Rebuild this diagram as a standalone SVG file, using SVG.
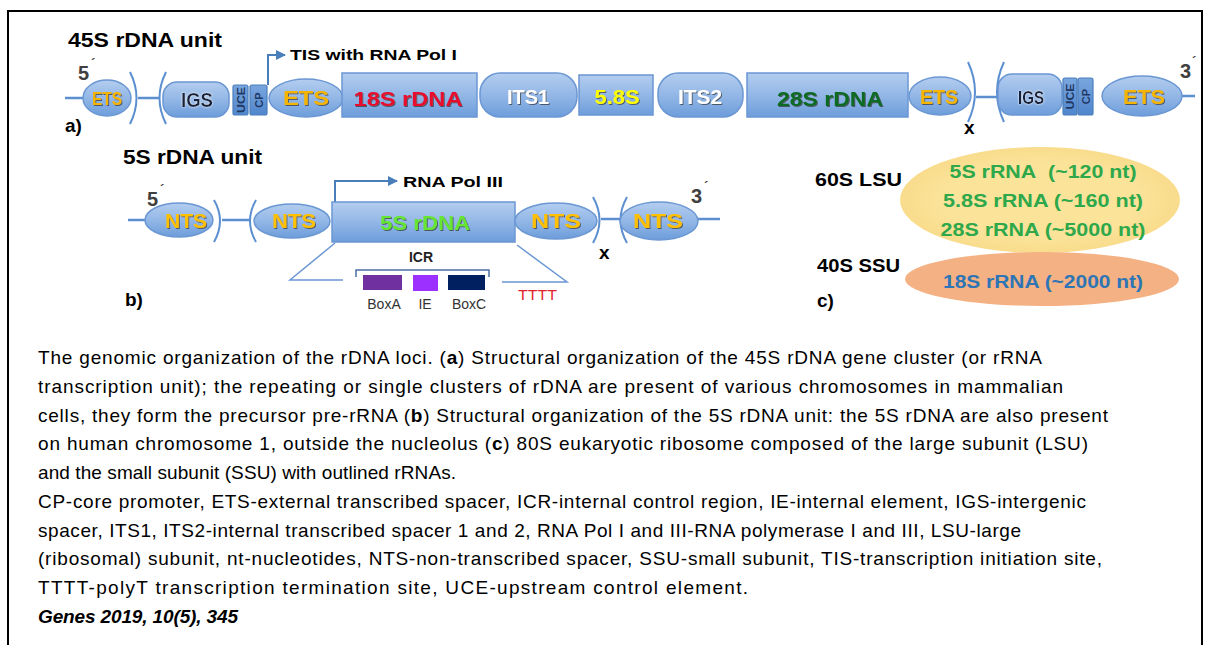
<svg xmlns="http://www.w3.org/2000/svg" width="1205" height="645" viewBox="0 0 1205 645">
<defs>
<linearGradient id="gb" x1="0" y1="0" x2="0" y2="1">
<stop offset="0" stop-color="#b3cdef"/>
<stop offset="0.5" stop-color="#93b7e6"/>
<stop offset="1" stop-color="#6d9ddb"/>
</linearGradient>
<linearGradient id="gd" x1="0" y1="0" x2="0" y2="1">
<stop offset="0" stop-color="#7aa6de"/>
<stop offset="1" stop-color="#4f86cc"/>
</linearGradient>
<radialGradient id="gy" cx="0.5" cy="0.5" r="0.5">
<stop offset="0.7" stop-color="#fbe39a"/>
<stop offset="1" stop-color="#f9dc8c"/>
</radialGradient>
<filter id="sh" x="-20%" y="-20%" width="140%" height="140%">
<feDropShadow dx="1" dy="1" stdDeviation="0.6" flood-color="#333" flood-opacity="0.7"/>
</filter>
<filter id="wg" x="-20%" y="-20%" width="140%" height="140%">
<feDropShadow dx="0" dy="0" stdDeviation="1" flood-color="#fff" flood-opacity="1"/>
</filter>
<marker id="ar" viewBox="0 0 10 10" refX="9" refY="5" markerWidth="5" markerHeight="5" orient="auto">
<path d="M0,0 L10,5 L0,10 z" fill="#4a7ebb"/>
</marker>
<style>
.sh{fill:url(#gb);stroke:#6b97d3;stroke-width:1.5}
.dk{fill:url(#gd);stroke:#4a7ebb;stroke-width:1.2}
.ln{stroke:#5b8fd0;stroke-width:2.5;fill:none}
.br{stroke:#5b8fd0;stroke-width:2;fill:none}
.arr{stroke:#4a7ebb;stroke-width:2;fill:none}
.lbl{font-family:"Liberation Sans",Arial,sans-serif;font-weight:bold;text-anchor:middle}
.b{font-family:"Liberation Sans",Arial,sans-serif;font-weight:bold;fill:#000}
.cap{font-family:"Liberation Sans",Arial,sans-serif;font-size:19px;fill:#000}
.vt{font-family:"Liberation Sans",Arial,sans-serif;font-weight:bold;font-size:11px;fill:#1f3864;text-anchor:middle}
.prime{font-family:"Liberation Sans",Arial,sans-serif;font-weight:bold;fill:#404040}
.grn{font-family:"Liberation Sans",Arial,sans-serif;font-weight:bold;font-size:18px;fill:#2ea84a;text-anchor:middle}
.sm{font-family:"Liberation Sans",Arial,sans-serif;font-size:14px;fill:#333;text-anchor:middle}
</style>
</defs>
<rect x="0" y="0" width="1205" height="645" fill="#fff"/>
<path d="M8,660 V11 H1202 V660" fill="none" stroke="#000" stroke-width="2"/>

<g id="connectors">
<line class="ln" x1="65" y1="98" x2="84" y2="98"/>
<line class="ln" x1="138" y1="98" x2="160" y2="98"/>
<line class="ln" x1="976" y1="97" x2="997" y2="97"/>
<line class="ln" x1="1182" y1="96" x2="1195" y2="96"/>
<path class="br" d="M130,72 Q143,98 130,124"/>
<path class="br" d="M166,72 Q153,98 166,124"/>
<path class="br" d="M968,62 Q982,92 968,122"/>
<path class="br" d="M1004,62 Q990,92 1004,122"/>
<path class="arr" d="M268,85 V55 H285" marker-end="url(#ar)"/>
<line class="ln" x1="128" y1="220" x2="146" y2="220"/>
<line class="ln" x1="222" y1="220" x2="250" y2="220"/>
<line class="ln" x1="601" y1="219" x2="620" y2="219"/>
<line class="ln" x1="697" y1="219" x2="720" y2="219"/>
<path class="br" d="M214,200 Q226,221 214,242"/>
<path class="br" d="M256,200 Q244,221 256,242"/>
<path class="br" d="M593,197 Q606,220 593,243"/>
<path class="br" d="M627,197 Q614,220 627,243"/>
<path class="arr" d="M335,202 V181 H397" marker-end="url(#ar)"/>
<path d="M335,243 L290,280 H343" stroke="#6b97d3" stroke-width="1.5" fill="none"/>
<path d="M517,245 L567,282 H502" stroke="#6b97d3" stroke-width="1.5" fill="none"/>
</g>

<g id="titles">
<text class="b" x="68" y="47" font-size="21" textLength="154" lengthAdjust="spacingAndGlyphs">45S rDNA unit</text>
<text class="b" x="290" y="60" font-size="15" textLength="167" lengthAdjust="spacingAndGlyphs">TIS with RNA Pol I</text>
<text class="b" x="65" y="132" font-size="19">a)</text>
<text class="prime" x="78" y="80" font-size="20">5</text><text class="prime" x="91" y="68" font-size="13">´</text>
<text class="prime" x="1180" y="78" font-size="20">3</text><text class="prime" x="1192" y="66" font-size="13">´</text>
<text class="b" x="964" y="134" font-size="19">x</text>
<text class="b" x="123" y="164" font-size="21" textLength="139" lengthAdjust="spacingAndGlyphs">5S rDNA unit</text>
<text class="b" x="403" y="187" font-size="15" textLength="100" lengthAdjust="spacingAndGlyphs">RNA Pol III</text>
<text class="prime" x="147" y="206" font-size="20">5</text><text class="prime" x="160" y="194" font-size="13">´</text>
<text class="prime" x="691" y="203" font-size="20">3</text><text class="prime" x="704" y="191" font-size="13">´</text>
<text class="b" x="599" y="259" font-size="19">x</text>
<text class="b" x="125" y="306" font-size="19">b)</text>
<text class="b" x="817" y="307" font-size="19">c)</text>
</g>

<g id="ETS1"><ellipse class="sh" cx="107" cy="98" rx="24" ry="18"/><text class="lbl" x="107" y="105" font-size="18" fill="#f5b400" filter="url(#sh)" textLength="30" lengthAdjust="spacingAndGlyphs">ETS</text></g>
<g id="IGS1"><rect class="sh" x="163" y="82" width="66" height="35" rx="14"/><text class="lbl" x="197" y="107" font-size="21" fill="#16233d" filter="url(#wg)" textLength="32" lengthAdjust="spacingAndGlyphs">IGS</text></g>
<g id="UCE1"><rect class="dk" x="233" y="85" width="15" height="30" rx="2"/><text class="vt" transform="translate(244.5,100) rotate(-90)" textLength="26" lengthAdjust="spacingAndGlyphs">UCE</text></g>
<g id="CP1"><rect class="dk" x="250" y="85" width="17" height="30" rx="2"/><text class="vt" transform="translate(262.5,100) rotate(-90)">CP</text></g>
<g id="ETS2"><ellipse class="sh" cx="306" cy="98" rx="37" ry="19"/><text class="lbl" x="306" y="105" font-size="20" fill="#f5b400" filter="url(#sh)" textLength="46" lengthAdjust="spacingAndGlyphs">ETS</text></g>
<g id="r18S"><rect class="sh" x="342" y="73" width="135" height="44"/><text class="lbl" x="408" y="106" font-size="21" fill="#e8112d" filter="url(#sh)" textLength="109" lengthAdjust="spacingAndGlyphs">18S rDNA</text></g>
<g id="ITS1"><rect class="sh" x="480" y="73" width="97" height="44" rx="20"/><text class="lbl" x="528" y="104" font-size="21" fill="#fff" filter="url(#sh)" textLength="42" lengthAdjust="spacingAndGlyphs">ITS1</text></g>
<g id="r58S"><rect class="sh" x="579" y="75" width="74" height="40"/><text class="lbl" x="617" y="104" font-size="21" fill="#ffff00" filter="url(#sh)" textLength="45" lengthAdjust="spacingAndGlyphs">5.8S</text></g>
<g id="ITS2"><rect class="sh" x="658" y="73" width="85" height="44" rx="20"/><text class="lbl" x="700" y="104" font-size="21" fill="#fff" filter="url(#sh)" textLength="44" lengthAdjust="spacingAndGlyphs">ITS2</text></g>
<g id="r28S"><rect class="sh" x="747" y="73" width="161" height="44"/><text class="lbl" x="830" y="106" font-size="21" fill="#0b6b23" filter="url(#sh)" textLength="106" lengthAdjust="spacingAndGlyphs">28S rDNA</text></g>
<g id="ETS3"><ellipse class="sh" cx="940" cy="96" rx="31" ry="19"/><text class="lbl" x="939" y="104" font-size="20" fill="#f5b400" filter="url(#sh)" textLength="38" lengthAdjust="spacingAndGlyphs">ETS</text></g>
<g id="IGS2"><rect class="sh" x="998" y="74" width="64" height="41" rx="14"/><text class="lbl" x="1031" y="104" font-size="19" fill="#16233d" filter="url(#wg)" textLength="26" lengthAdjust="spacingAndGlyphs">IGS</text></g>
<g id="UCE2"><rect class="dk" x="1063" y="78" width="14" height="37" rx="2"/><text class="vt" transform="translate(1074,96.5) rotate(-90)" textLength="26" lengthAdjust="spacingAndGlyphs">UCE</text></g>
<g id="CP2"><rect class="dk" x="1078" y="78" width="15" height="37" rx="2"/><text class="vt" transform="translate(1089.5,96.5) rotate(-90)">CP</text></g>
<g id="ETS4"><ellipse class="sh" cx="1142" cy="96" rx="40" ry="20"/><text class="lbl" x="1144" y="104" font-size="20" fill="#f5b400" filter="url(#sh)" textLength="42" lengthAdjust="spacingAndGlyphs">ETS</text></g>

<g id="NTS1"><ellipse class="sh" cx="179" cy="220" rx="34" ry="17"/><text class="lbl" x="186" y="228" font-size="20" fill="#ffc000" filter="url(#sh)" textLength="42" lengthAdjust="spacingAndGlyphs">NTS</text></g>
<g id="NTS2"><ellipse class="sh" cx="292" cy="221" rx="38" ry="17"/><text class="lbl" x="294" y="228" font-size="20" fill="#ffc000" filter="url(#sh)" textLength="44" lengthAdjust="spacingAndGlyphs">NTS</text></g>
<g id="r5S"><rect class="sh" x="332" y="202" width="183" height="40"/><text class="lbl" x="425" y="230" font-size="21" fill="#66e633" filter="url(#sh)" textLength="90" lengthAdjust="spacingAndGlyphs">5S rDNA</text></g>
<g id="NTS3"><ellipse class="sh" cx="556" cy="221" rx="41" ry="18"/><text class="lbl" x="556" y="228" font-size="20" fill="#ffc000" filter="url(#sh)" textLength="50" lengthAdjust="spacingAndGlyphs">NTS</text></g>
<g id="NTS4"><ellipse class="sh" cx="659" cy="221" rx="39" ry="19"/><text class="lbl" x="658" y="228" font-size="20" fill="#ffc000" filter="url(#sh)" textLength="50" lengthAdjust="spacingAndGlyphs">NTS</text></g>

<g id="ICR">
<text class="lbl" x="421" y="262" font-size="14" fill="#222">ICR</text>
<path d="M356,277 V270 H489 V277" stroke="#4a6fa5" stroke-width="1.5" fill="none"/>
<rect x="363" y="275" width="39" height="15" fill="#7030a0"/>
<rect x="413" y="275" width="25" height="16" fill="#9b30ff"/>
<rect x="448" y="275" width="37" height="15" fill="#002060"/>
<text class="sm" x="384" y="309">BoxA</text>
<text class="sm" x="425" y="309">IE</text>
<text class="sm" x="469" y="309">BoxC</text>
<text x="518" y="300" font-family="Liberation Sans,Arial,sans-serif" font-size="14" fill="#e01f2a" textLength="39" lengthAdjust="spacingAndGlyphs">TTTT</text>
</g>

<g id="ribosome">
<text class="b" x="815" y="186" font-size="19" textLength="87" lengthAdjust="spacingAndGlyphs">60S LSU</text>
<ellipse cx="1040" cy="200" rx="140" ry="53" fill="url(#gy)"/>
<text class="grn" x="1043" y="178" textLength="187" lengthAdjust="spacingAndGlyphs">5S rRNA&#160; (~120 nt)</text>
<text class="grn" x="1043" y="207" textLength="200" lengthAdjust="spacingAndGlyphs">5.8S rRNA (~160 nt)</text>
<text class="grn" x="1043" y="236" textLength="205" lengthAdjust="spacingAndGlyphs">28S rRNA (~5000 nt)</text>
<text class="b" x="817" y="272" font-size="19" textLength="83" lengthAdjust="spacingAndGlyphs">40S SSU</text>
<ellipse cx="1042" cy="279" rx="137" ry="27" fill="#f4b183"/>
<text class="grn" x="1043" y="288" style="fill:#2e75b6" textLength="200" lengthAdjust="spacingAndGlyphs">18S rRNA (~2000 nt)</text>
</g>

<g id="caption">
<text class="cap" x="38" y="364" textLength="1004" lengthAdjust="spacing">The genomic organization of the rDNA loci. (<tspan font-weight="bold">a</tspan>) Structural organization of the 45S rDNA gene cluster (or rRNA</text>
<text class="cap" x="38" y="393" textLength="1025" lengthAdjust="spacing">transcription unit); the repeating or single clusters of rDNA are present of various chromosomes in mammalian</text>
<text class="cap" x="38" y="422" textLength="1070" lengthAdjust="spacing">cells, they form the precursor pre-rRNA (<tspan font-weight="bold">b</tspan>) Structural organization of the 5S rDNA unit: the 5S rDNA are also present</text>
<text class="cap" x="38" y="450" textLength="1050" lengthAdjust="spacing">on human chromosome 1, outside the nucleolus (<tspan font-weight="bold">c</tspan>) 80S eukaryotic ribosome composed of the large subunit (LSU)</text>
<text class="cap" x="38" y="479" textLength="418" lengthAdjust="spacing">and the small subunit (SSU) with outlined rRNAs.</text>
<text class="cap" x="38" y="508" textLength="1048" lengthAdjust="spacing">CP-core promoter, ETS-external transcribed spacer, ICR-internal control region, IE-internal element, IGS-intergenic</text>
<text class="cap" x="38" y="537" textLength="983" lengthAdjust="spacing">spacer, ITS1, ITS2-internal transcribed spacer 1 and 2, RNA Pol I and III-RNA polymerase I and III, LSU-large</text>
<text class="cap" x="38" y="565" textLength="1064" lengthAdjust="spacing">(ribosomal) subunit, nt-nucleotides, NTS-non-transcribed spacer, SSU-small subunit, TIS-transcription initiation site,</text>
<text class="cap" x="38" y="594" textLength="710" lengthAdjust="spacing">TTTT-polyT transcription termination site, UCE-upstream control element.</text>
<text class="cap" x="38" y="623" font-weight="bold" font-style="italic" textLength="200" lengthAdjust="spacing">Genes 2019, 10(5), 345</text>
</g>
</svg>
